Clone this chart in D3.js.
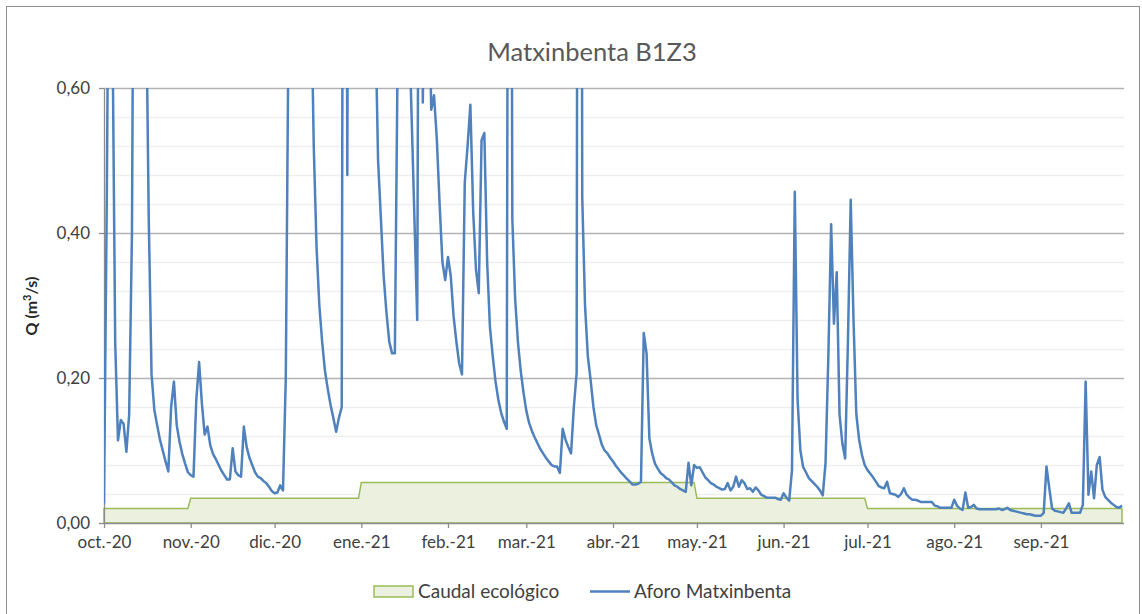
<!DOCTYPE html>
<html>
<head>
<meta charset="utf-8">
<script src="https://cdn.jsdelivr.net/npm/d3@7"></script>
<style>
  body { margin: 0; background: #fff; }
  svg { font-family: Lato, "Liberation Sans", sans-serif; }
</style>
</head>
<body>
<svg id="chart" width="1142" height="614"></svg>
<script>
// month tick labels (oct.-20 ... sep.-21)
const monthLabels = ["oct.-20", "nov.-20", "dic.-20", "ene.-21", "feb.-21", "mar.-21",
                     "abr.-21", "may.-21", "jun.-21", "jul.-21", "ago.-21", "sep.-21"];

// caudal ecológico, one value per month (m3/s)
const ecoMonthly = [0.020, 0.034, 0.034, 0.056, 0.056, 0.056, 0.056, 0.034, 0.034, 0.020, 0.020, 0.020];

// aforo Matxinbenta, daily values (values above 0,60 are off scale)
const qOct = [0.027, 0.45, 1.0, 0.7, 0.25, 0.114, 0.142, 0.137, 0.098, 0.15,
              0.4, 1.2, 1.5, 1.3, 1.0, 0.75, 0.42, 0.205, 0.156, 0.135,
              0.115, 0.1, 0.085, 0.071, 0.16, 0.195, 0.135, 0.112, 0.095, 0.082,
              0.07];
const qNov = [0.066, 0.064, 0.17, 0.222, 0.165, 0.122, 0.133, 0.107, 0.095, 0.088,
              0.08, 0.072, 0.066, 0.06, 0.06, 0.103, 0.071, 0.066, 0.064, 0.133,
              0.105, 0.09, 0.08, 0.07, 0.064, 0.062, 0.058, 0.055, 0.05, 0.044];
const qDec = [0.041, 0.042, 0.052, 0.045, 0.2, 0.7, 1.1, 1.4, 1.6, 1.5,
              1.3, 1.1, 0.95, 0.75, 0.52, 0.38, 0.3, 0.25, 0.21, 0.185,
              0.163, 0.145, 0.126, 0.145, 0.16, 2.0, 0.48, 2.0, 1.6, 1.3,
              1.1];
const qJan = [0.95, 1.2, 1.4, 1.1, 0.9, 0.7, 0.5, 0.42, 0.34, 0.29,
              0.25, 0.234, 0.234, 0.65, 1.5, 1.8, 1.3, 0.7, 0.56, 0.42,
              0.28, 1.5, 0.58, 1.0, 0.8, 0.57, 0.59, 0.53, 0.44, 0.36,
              0.335];
const qFeb = [0.367, 0.34, 0.285, 0.25, 0.22, 0.205, 0.47, 0.52, 0.577, 0.43,
              0.35, 0.317, 0.528, 0.538, 0.36, 0.27, 0.23, 0.195, 0.17, 0.152,
              0.14, 0.13, 2.0, 0.42, 0.31, 0.25, 0.21, 0.18];
const qMar = [0.155, 0.138, 0.127, 0.118, 0.11, 0.102, 0.096, 0.09, 0.085, 0.08,
              0.078, 0.078, 0.069, 0.13, 0.115, 0.105, 0.096, 0.16, 0.207, 3.0,
              0.45, 0.3, 0.23, 0.197, 0.16, 0.135, 0.122, 0.108, 0.1, 0.096,
              0.09];
const qApr = [0.085, 0.079, 0.074, 0.069, 0.065, 0.061, 0.057, 0.053, 0.053, 0.054,
              0.057, 0.262, 0.234, 0.117, 0.096, 0.082, 0.075, 0.069, 0.066, 0.062,
              0.06, 0.056, 0.052, 0.05, 0.047, 0.045, 0.043, 0.083, 0.052, 0.08];
const qMay = [0.076, 0.077, 0.07, 0.063, 0.059, 0.055, 0.053, 0.05, 0.048, 0.046,
              0.047, 0.055, 0.045, 0.05, 0.064, 0.05, 0.059, 0.055, 0.047, 0.048,
              0.043, 0.049, 0.045, 0.039, 0.037, 0.035, 0.035, 0.035, 0.035, 0.033,
              0.032];
const qJun = [0.041, 0.035, 0.031, 0.073, 0.457, 0.17, 0.1, 0.077, 0.07, 0.062,
              0.058, 0.054, 0.05, 0.045, 0.038, 0.083, 0.23, 0.412, 0.275, 0.346,
              0.15, 0.11, 0.089, 0.25, 0.446, 0.28, 0.15, 0.115, 0.094, 0.08];
const qJul = [0.073, 0.068, 0.063, 0.057, 0.051, 0.049, 0.048, 0.057, 0.041, 0.04,
              0.039, 0.036, 0.04, 0.048, 0.039, 0.035, 0.032, 0.032, 0.031, 0.029,
              0.029, 0.029, 0.029, 0.029, 0.024, 0.023, 0.021, 0.021, 0.021, 0.021,
              0.021];
const qAug = [0.032, 0.024, 0.02, 0.018, 0.042, 0.021, 0.022, 0.025, 0.02, 0.019,
              0.019, 0.019, 0.019, 0.019, 0.019, 0.019, 0.02, 0.018, 0.019, 0.021,
              0.018, 0.017, 0.016, 0.015, 0.014, 0.013, 0.012, 0.012, 0.011, 0.01,
              0.01];
const qSep = [0.01, 0.014, 0.078, 0.048, 0.02, 0.017, 0.016, 0.015, 0.014, 0.02,
              0.027, 0.014, 0.014, 0.014, 0.014, 0.025, 0.195, 0.039, 0.071, 0.034,
              0.08, 0.091, 0.046, 0.036, 0.032, 0.028, 0.025, 0.022, 0.021, 0.024];

const yTicks = [0, 0.2, 0.4, 0.6];

const svg = d3.select('#chart');
const W = 1142, H = 614;
const plot = { left: 104, right: 1122, top: 88, bottom: 523 };

// build the daily table
const start = new Date(2020, 9, 1);
const days = d3.timeDay.range(start, new Date(2021, 9, 1));
const flow = [].concat(qOct, qNov, qDec, qJan, qFeb, qMar, qApr, qMay, qJun, qJul, qAug, qSep);
const data = days.map((d, i) => ({
    date: d,
    q: flow[i],
    eco: ecoMonthly[(d.getMonth() + 3) % 12]
}));

const x = d3.scaleTime()
    .domain([start, days[days.length - 1]])
    .range([plot.left, plot.right]);

const y = d3.scaleLinear()
    .domain([0, 0.6])
    .range([plot.bottom, plot.top]);

// chart frame
svg.append('rect')
    .attr('x', 6.5).attr('y', 6.5)
    .attr('width', W - 9).attr('height', H - 5)
    .attr('fill', 'none')
    .attr('stroke', '#8c8c8c')
    .attr('stroke-width', 1);

// title
svg.append('text')
    .attr('x', 592).attr('y', 61)
    .attr('text-anchor', 'middle')
    .attr('font-size', 25.5)
    .attr('fill', '#595959')
    .text('Matxinbenta B1Z3');

// minor gridlines (every 0,04)
const minor = d3.range(1, 15).filter(i => i % 5 !== 0).map(i => i * 0.04);
svg.append('g')
    .selectAll('line')
    .data(minor)
    .join('line')
    .attr('x1', plot.left).attr('x2', plot.right + 2)
    .attr('y1', d => Math.round(y(d)) + 0.5)
    .attr('y2', d => Math.round(y(d)) + 0.5)
    .attr('stroke', '#efefef')
    .attr('stroke-width', 1.5);

// major gridlines
svg.append('g')
    .selectAll('line')
    .data(yTicks.slice(1))
    .join('line')
    .attr('x1', plot.left).attr('x2', plot.right + 2)
    .attr('y1', d => Math.round(y(d)) + 0.5)
    .attr('y2', d => Math.round(y(d)) + 0.5)
    .attr('stroke', '#b3b3b3')
    .attr('stroke-width', 1.3);

// clip to the plot area so off-scale peaks are cut at 0,60
svg.append('clipPath').attr('id', 'plotClip')
    .append('rect')
    .attr('x', plot.left).attr('y', plot.top)
    .attr('width', plot.right - plot.left + 3)
    .attr('height', plot.bottom - plot.top);

// caudal ecológico (area)
const area = d3.area()
    .x(d => x(d.date))
    .y0(y(0))
    .y1(d => y(d.eco));

svg.append('path')
    .datum(data)
    .attr('d', d => area(d) + 'Z')
    .attr('fill', '#ebf1de')
    .attr('stroke', '#9bbb59')
    .attr('stroke-width', 1.5);

// axes
const yAxis = d3.axisLeft(y)
    .tickValues(yTicks)
    .tickFormat(d => d.toFixed(2).replace('.', ','))
    .tickSize(5)
    .tickSizeOuter(0)
    .tickPadding(9);

const gy = svg.append('g')
    .attr('transform', `translate(${plot.left},0)`)
    .call(yAxis);

const xAxis = d3.axisBottom(x)
    .tickValues(d3.timeMonth.range(start, new Date(2021, 9, 1)))
    .tickFormat((d, i) => monthLabels[i])
    .tickSize(5)
    .tickSizeOuter(0)
    .tickPadding(8);

const gx = svg.append('g')
    .attr('transform', `translate(0,${plot.bottom})`)
    .call(xAxis);

gx.select('.domain').attr('d', `M${plot.left},0.5H${plot.right + 2}`);

[gx, gy].forEach(g => {
    g.select('.domain').attr('stroke', '#8c8c8c').attr('stroke-width', 1.3);
    g.selectAll('.tick line').attr('stroke', '#8c8c8c').attr('stroke-width', 1.3);
    g.selectAll('.tick text')
        .attr('font-size', 17)
        .attr('font-family', 'Lato, sans-serif')
        .attr('fill', '#404040');
});

// y axis title
svg.append('text')
    .attr('transform', 'translate(37,306) rotate(-90)')
    .attr('text-anchor', 'middle')
    .attr('font-size', 16)
    .attr('font-weight', 'bold')
    .attr('fill', '#262626')
    .html('Q (m<tspan dy="-6" font-size="11">3</tspan><tspan dy="6">/s)</tspan>');

// aforo (line)
const line = d3.line()
    .x(d => x(d.date))
    .y(d => y(d.q));

svg.append('path')
    .datum(data)
    .attr('clip-path', 'url(#plotClip)')
    .attr('d', line)
    .attr('fill', 'none')
    .attr('stroke', '#4f81bd')
    .attr('stroke-width', 2.5)
    .attr('stroke-linejoin', 'round');

// legend
const legend = svg.append('g').attr('font-size', 19).attr('fill', '#404040');

legend.append('rect')
    .attr('x', 374).attr('y', 586)
    .attr('width', 39).attr('height', 11)
    .attr('fill', '#ebf1de')
    .attr('stroke', '#9bbb59')
    .attr('stroke-width', 1.5);

legend.append('text')
    .attr('x', 418).attr('y', 598)
    .text('Caudal ecológico');

legend.append('line')
    .attr('x1', 590).attr('x2', 630)
    .attr('y1', 591.5).attr('y2', 591.5)
    .attr('stroke', '#4f81bd')
    .attr('stroke-width', 2.5);

legend.append('text')
    .attr('x', 634).attr('y', 598)
    .text('Aforo Matxinbenta');
</script>
</body>
</html>
